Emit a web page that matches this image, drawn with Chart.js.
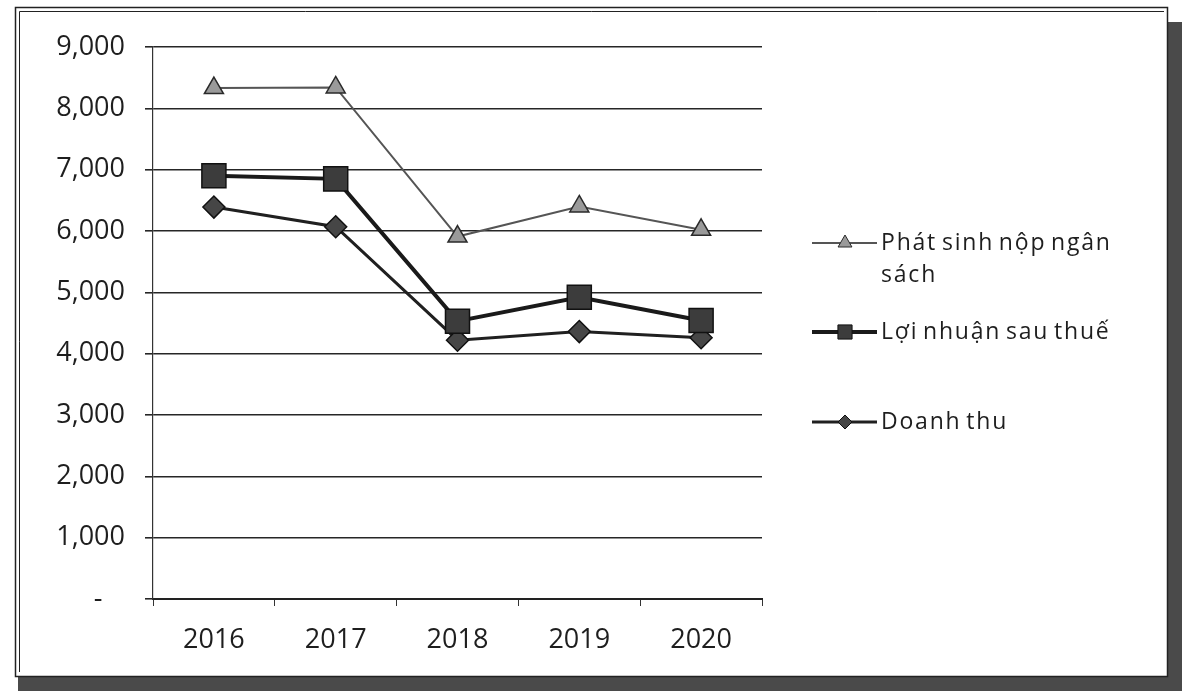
<!DOCTYPE html>
<html>
<head>
<meta charset="utf-8">
<script src="https://cdn.jsdelivr.net/npm/chart.js@4/dist/chart.umd.min.js"></script>
<style>
  html, body { margin: 0; padding: 0; background: #fff; }
  #wrap { position: relative; width: 1182px; height: 691px; }
</style>
</head>
<body>
<div id="wrap"><canvas id="c" width="1182" height="691"></canvas></div>
<script>
// Years on the horizontal axis
const years = ['2016', '2017', '2018', '2019', '2020'];

// Series values
const phatSinhNopNganSach = [8330, 8340, 5910, 6400, 6020];
const loiNhuanSauThue = [6900, 6850, 4530, 4920, 4540];
const doanhThu = [6390, 6070, 4220, 4360, 4260];

// Legend captions (first one wraps onto two lines)
const seriesNames = [
  ['Phát sinh nộp ngân', 'sách'],
  ['Lợi nhuận sau thuế'],
  ['Doanh thu']
];

const FONT = '"Open Sans", "Noto Sans", sans-serif';

// Paper frame with a dark scanned edge on the right and bottom
const framePlugin = {
  id: 'frame',
  beforeDraw(chart) {
    const ctx = chart.ctx;
    ctx.save();
    ctx.fillStyle = '#ffffff';
    ctx.fillRect(0, 0, chart.width, chart.height);
    ctx.fillStyle = '#4a4a4a';
    ctx.fillRect(1167, 22, 15, 669);
    ctx.fillRect(18, 676, 1164, 15);
    ctx.strokeStyle = '#222';
    ctx.lineWidth = 1.5;
    ctx.strokeRect(15.5, 7.5, 1152, 669);
    ctx.lineWidth = 1;
    ctx.beginPath();
    ctx.moveTo(19.5, 672);
    ctx.lineTo(19.5, 11.5);
    ctx.lineTo(1164, 11.5);
    ctx.stroke();
    ctx.restore();
  }
};

// Legend at the right side, drawn beside the plot
const sideLegendPlugin = {
  id: 'sideLegend',
  afterDraw(chart) {
    const ctx = chart.ctx;
    const rows = [243, 332, 422];
    const markerRadius = [8, 10, 7];
    ctx.save();
    chart.data.datasets.forEach((ds, i) => {
      const y = rows[i];
      ctx.strokeStyle = ds.borderColor;
      ctx.lineWidth = ds.borderWidth;
      ctx.beginPath();
      ctx.moveTo(812, y);
      ctx.lineTo(877, y);
      ctx.stroke();
      ctx.fillStyle = ds.pointBackgroundColor;
      ctx.strokeStyle = ds.pointBorderColor;
      ctx.lineWidth = 1;
      Chart.helpers.drawPoint(ctx, {
        pointStyle: ds.pointStyle,
        radius: markerRadius[i],
        borderWidth: 1,
        rotation: 0
      }, 845, y);
      ctx.fillStyle = '#1e1e1e';
      ctx.font = '23px ' + FONT;
      ctx.letterSpacing = '1.8px';
      ctx.wordSpacing = '-3px';
      ctx.textAlign = 'left';
      ctx.textBaseline = 'middle';
      seriesNames[i].forEach((line, k) => {
        ctx.fillText(line, 881, y + k * 32);
      });
      ctx.letterSpacing = '0px';
      ctx.wordSpacing = '0px';
    });
    ctx.restore();
  }
};

new Chart(document.getElementById('c'), {
  type: 'line',
  data: {
    labels: years,
    datasets: [
      {
        label: seriesNames[0].join(' '),
        data: phatSinhNopNganSach,
        borderColor: '#555',
        borderWidth: 2,
        pointStyle: 'triangle',
        pointRadius: 11,
        pointBackgroundColor: '#9a9a9a',
        pointBorderColor: '#2a2a2a',
        pointBorderWidth: 1.5,
        tension: 0
      },
      {
        label: seriesNames[1].join(' '),
        data: loiNhuanSauThue,
        borderColor: '#1a1a1a',
        borderWidth: 4,
        pointStyle: 'rect',
        pointRadius: 17,
        pointBackgroundColor: '#3c3c3c',
        pointBorderColor: '#111',
        pointBorderWidth: 1.5,
        tension: 0
      },
      {
        label: seriesNames[2].join(' '),
        data: doanhThu,
        borderColor: '#202020',
        borderWidth: 3,
        pointStyle: 'rectRot',
        pointRadius: 11,
        pointBackgroundColor: '#464646',
        pointBorderColor: '#111',
        pointBorderWidth: 1.5,
        tension: 0
      }
    ]
  },
  options: {
    responsive: false,
    animation: false,
    events: [],
    layout: { padding: { left: 0, right: 420, top: 47, bottom: 32 } },
    plugins: {
      legend: { display: false },
      tooltip: { enabled: false }
    },
    scales: {
      x: {
        offset: true,
        grid: {
          offset: true,
          drawOnChartArea: false,
          drawTicks: true,
          tickLength: 7,
          color: '#333',
          lineWidth: 1
        },
        border: { display: true, color: '#222', width: 2 },
        ticks: {
          color: '#1e1e1e',
          font: { family: FONT, size: 27 },
          padding: 18,
          maxRotation: 0
        },
        afterFit(scale) { scale.height = 60; }
      },
      y: {
        min: 0,
        max: 9000,
        grid: {
          color: '#262626',
          lineWidth: 1.6,
          drawTicks: true,
          tickLength: 8
        },
        border: { display: true, color: '#333', width: 1.2 },
        ticks: {
          stepSize: 1000,
          color: '#1e1e1e',
          font: { family: FONT, size: 27 },
          padding: 20,
          callback: v => v === 0 ? '-\u2007 ' : v.toLocaleString('en-US')
        },
        afterFit(scale) { scale.width = 153; }
      }
    }
  },
  plugins: [framePlugin, sideLegendPlugin]
});
</script>
</body>
</html>
